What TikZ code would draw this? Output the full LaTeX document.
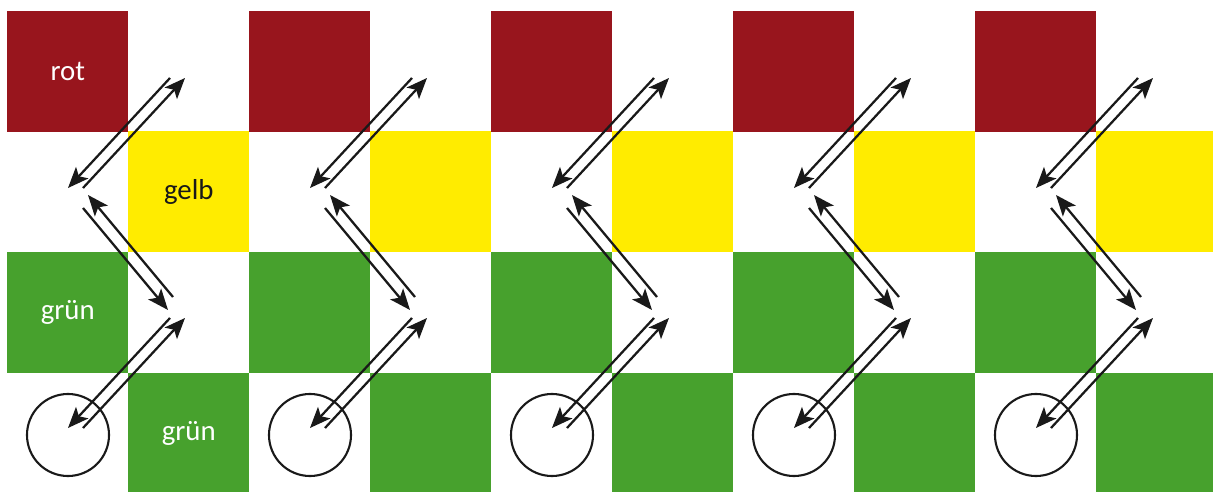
\documentclass[tikz,border=0pt]{standalone}
\usepackage{fontspec}
\setmainfont{Carlito}
\usetikzlibrary{arrows.meta}
\definecolor{ampelrot}{RGB}{152,21,29}
\definecolor{ampelgelb}{RGB}{255,236,0}
\definecolor{ampelgruen}{RGB}{71,161,45}
\tikzset{
  feld/.style={fill=#1, inner sep=0pt, minimum size=3.025cm, anchor=north west},
  pfeil/.style={line width=1.6pt, black!90, -{Stealth[length=0.52cm, width=0.42cm, inset=0.12cm]}},
  kugel/.style={draw=black!90, circle, line width=1.5pt, minimum size=2.05cm, inner sep=0pt}
}
\begin{document}
\begin{tikzpicture}[x=0.025cm, y=-0.025cm, font=\fontsize{20.5}{24}\selectfont]
  \useasboundingbox (0,0) rectangle (1213,492);
  % five columns, one step every 242 units
  \foreach \i in {0,...,4} {
    \pgfmathsetmacro\o{242*\i}
    \node[feld=ampelrot] (rot\i) at (\o+7,11) {};
    \node[feld=ampelgelb] (gelb\i) at (\o+128,131) {};
    \node[feld=ampelgruen] (gruenA\i) at (\o+7,252) {};
    \node[feld=ampelgruen] (gruenB\i) at (\o+128,373) {};
    \node[kugel] (kugel\i) at (\o+68,435) {};
    \coordinate (a\i) at (\o+170,78);  \coordinate (b\i) at (\o+68,188);
    \coordinate (c\i) at (\o+83,188);  \coordinate (d\i) at (\o+185,78);
    \coordinate (e\i) at (\o+83,208);  \coordinate (f\i) at (\o+168,310);
    \coordinate (g\i) at (\o+173,297); \coordinate (h\i) at (\o+88,195);
    \coordinate (k\i) at (\o+170,318); \coordinate (l\i) at (\o+68,428);
    \coordinate (m\i) at (\o+83,428);  \coordinate (n\i) at (\o+185,318);
    \draw[pfeil] (a\i) -- (b\i);
    \draw[pfeil] (c\i) -- (d\i);
    \draw[pfeil] (e\i) -- (f\i);
    \draw[pfeil] (g\i) -- (h\i);
    \draw[pfeil] (k\i) -- (l\i);
    \draw[pfeil] (m\i) -- (n\i);
  }
  \node[text=white] (trot) at (rot0.center) {rot};
  \node[text=black!90] (tgelb) at (gelb0.center) {gelb};
  \node[text=white] (tgruenA) at (gruenA0.center) {grün};
  \node[text=white] (tgruenB) at (gruenB0.center) {grün};
\end{tikzpicture}
\end{document}
